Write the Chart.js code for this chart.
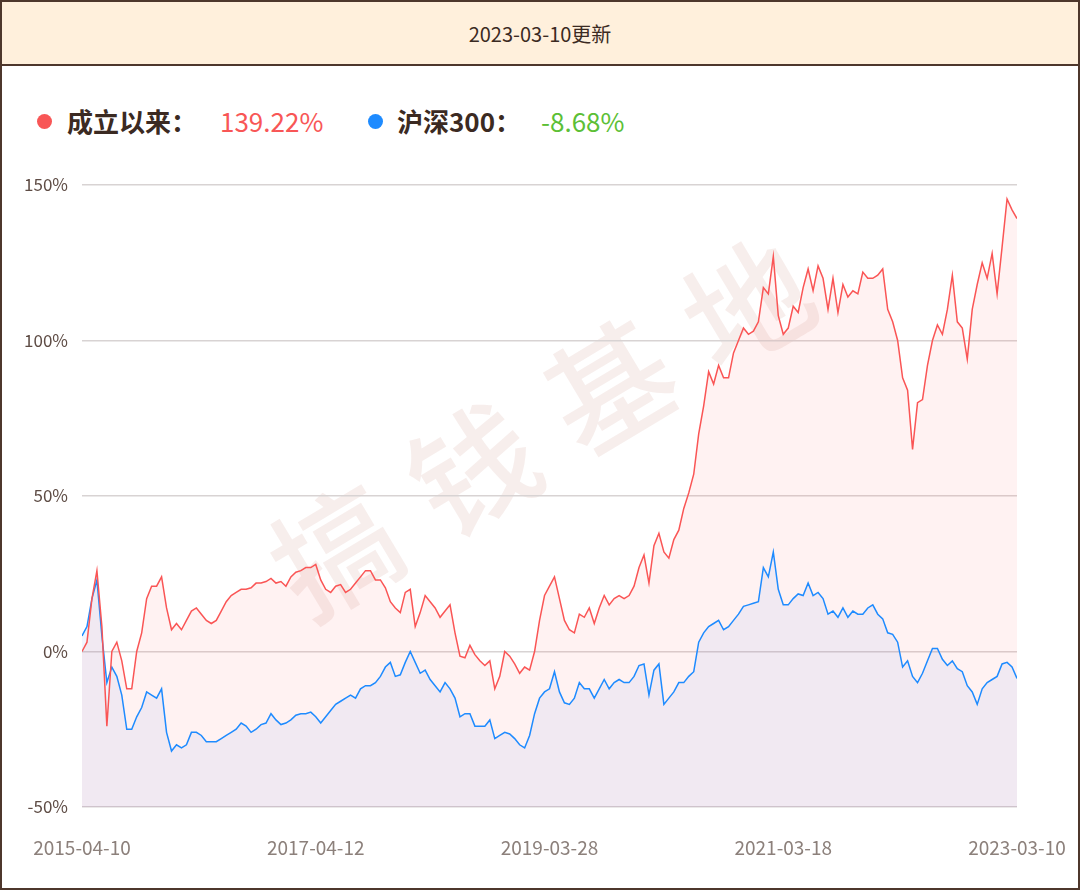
<!DOCTYPE html>
<html>
<head>
<meta charset="utf-8">
<script src="https://cdn.jsdelivr.net/npm/chart.js@4.4.0/dist/chart.umd.min.js"></script>
<style>
  body { margin: 0; width: 1080px; height: 890px; position: relative; background: #fff; font-family: "Noto Sans CJK SC", "Noto Sans", sans-serif; overflow: hidden; }
  #frame { position: absolute; left: 0; top: 0; width: 1080px; height: 890px; box-sizing: border-box; border: 2px solid #4e372c; pointer-events: none; z-index: 5; }
  #head { position: absolute; left: 0; top: 0; width: 1080px; height: 66px; background: #fff0dc; border-bottom: 2px solid #4e372c; box-sizing: border-box; text-align: center; line-height: 68px; font-size: 20px; color: #3b2a22; }
  .lg { position: absolute; top: 102px; font-size: 26px; line-height: 38px; white-space: nowrap; }
  .dot { position: absolute; top: 114px; width: 15px; height: 15px; border-radius: 50%; }
  #wrap { position: absolute; left: 0; top: 160px; width: 1080px; height: 720px; }
</style>
</head>
<body>
<div id="head">2023-03-10更新</div>
<div class="dot" style="left:37px;background:#f85656"></div>
<div class="lg" style="left:67px;font-weight:bold;color:#3b2a22">成立以来：</div>
<div class="lg" style="left:220px;color:#f85656">139.22%</div>
<div class="dot" style="left:368px;background:#1e8bff"></div>
<div class="lg" style="left:397px;font-weight:bold;color:#3b2a22">沪深300：</div>
<div class="lg" style="left:541px;color:#5cbf36">-8.68%</div>
<div id="wrap"><canvas id="chart" width="1080" height="720"></canvas></div>
<div id="frame"></div>
<script>
// 日期刻度（x轴只显示这5个）
const tickDates = ['2015-04-10', '2017-04-12', '2019-03-28', '2021-03-18', '2023-03-10'];
const yTicks = [-50, 0, 50, 100, 150];

// 成立以来累计收益（%）
const fundReturn = [
  0, 3, 17, 26, 8, -24, 0, 3, -3, -12,
  -12, 0, 6, 17, 21, 21, 24, 14, 7, 9,
  7, 10, 13, 14, 12, 10, 9, 10, 13, 16,
  18, 19, 20, 20, 20.5, 22, 22, 22.5, 23.5, 22,
  22.5, 21, 24, 25.5, 26, 27, 27, 28, 23, 20,
  19, 21, 21.5, 19, 20, 22, 24, 26, 26, 23,
  23, 20.5, 16, 14, 12.5, 19, 20, 8, 12.5, 18,
  16, 14, 11, 13, 15, 6, -1.5, -2, 2, -1,
  -3, -4.5, -3, -12, -8, 0, -1.5, -4, -7, -5,
  -6, 0, 10, 18, 21, 24, 17, 10, 7, 6,
  12, 11, 14, 9, 14, 18, 15, 17, 18, 17,
  18, 21, 27, 31, 22, 34, 38, 32, 30, 36,
  39, 46, 51, 57, 70, 79, 90, 86, 92, 88,
  88, 96, 100, 104, 102, 103, 106, 117, 115, 127,
  108, 102, 104, 111, 109, 117, 123, 116, 124, 120,
  110, 120, 109, 118, 114, 116, 115, 122, 120, 120,
  121, 123, 110, 106, 100, 88, 84, 65, 80, 81,
  92, 100, 105, 102, 110, 121, 106, 104, 94, 110,
  118, 125, 120, 128, 115, 130, 145.5, 142, 139.22
];

// 沪深300同期收益（%）
const hs300Return = [
  5, 8, 17, 23, 5, -10, -5, -8, -14, -25,
  -25, -21, -18, -13, -14, -15, -12, -26, -32, -30,
  -31, -30, -26, -26, -27, -29, -29, -29, -28, -27,
  -26, -25, -23, -24, -26, -25, -23.5, -23, -20, -22,
  -23.5, -23, -22, -20.5, -20, -20, -19.5, -21, -23, -21,
  -19, -17, -16, -15, -14, -15, -12, -11, -11, -10,
  -8, -5, -3.5, -8, -7.5, -3.5, 0, -3.5, -7, -6,
  -9, -11, -13, -10, -12, -15, -21, -20, -20, -24,
  -24, -24, -22, -28, -27, -26, -26.5, -28, -30, -31,
  -27, -20, -15, -13, -12, -6.5, -13, -16.5, -17, -15,
  -10, -12, -12, -15, -12, -9, -12, -10, -9, -10,
  -10, -8, -4.5, -4, -14, -6, -4, -17, -15, -13,
  -10, -10, -8, -6.5, 3, 6, 8, 9, 10, 7,
  8, 10, 12, 14.5, 15, 15.5, 16, 27, 24, 32,
  20, 15, 15, 17, 18.5, 18, 22, 18, 19, 17,
  12, 13, 11, 14, 11, 13, 12, 12, 14, 15,
  12, 10.5, 6, 5.5, 3, -5, -3, -8, -10, -7,
  -3, 1, 1, -2.5, -4.5, -3, -5.5, -6.5, -11, -13,
  -17, -12, -10, -9, -8, -4, -3.5, -5, -8.68
];

const step = (fundReturn.length - 1) / (tickDates.length - 1);

const watermark = {
  id: 'watermark',
  beforeDraw(chart) {
    const c = chart.ctx;
    const chars = ['搞', '钱', '基', '地'];
    c.save();
    c.translate(542, 268);
    c.rotate(-31 * Math.PI / 180);
    c.fillStyle = 'rgba(215, 170, 160, 0.2)';
    c.font = '500 124px "Noto Sans CJK SC"';
    c.textAlign = 'center';
    c.textBaseline = 'middle';
    chars.forEach((ch, i) => {
      c.fillText(ch, (i - 1.5) * 160, 0);
    });
    c.restore();
  }
};

new Chart(document.getElementById('chart'), {
  type: 'line',
  data: {
    datasets: [{
      label: '成立以来',
      data: fundReturn.map((v, i) => ({ x: i, y: v })),
      borderColor: '#fa5555',
      backgroundColor: 'rgba(255, 90, 90, 0.08)',
      borderWidth: 1.5,
      pointRadius: 0,
      fill: 'start',
      tension: 0
    }, {
      label: '沪深300',
      data: hs300Return.map((v, i) => ({ x: i, y: v })),
      borderColor: '#1e8bff',
      backgroundColor: 'rgba(40, 110, 255, 0.07)',
      borderWidth: 1.5,
      pointRadius: 0,
      fill: 'start',
      tension: 0
    }]
  },
  options: {
    responsive: false,
    animation: false,
    layout: { padding: { top: 25, right: 63, bottom: 13, left: 0 } },
    scales: {
      x: {
        type: 'linear',
        min: 0,
        max: fundReturn.length - 1,
        grid: { display: false, drawTicks: false },
        border: { display: false },
        afterFit: s => { s.height = 60; s.paddingLeft = 0; s.paddingRight = 0; },
        ticks: {
          stepSize: step,
          autoSkip: false,
          maxRotation: 0,
          padding: 29,
          color: '#8c807b',
          font: { family: '"Noto Sans CJK SC"', size: 19 },
          callback: v => tickDates[Math.round(v / step)]
        },
        afterBuildTicks: s => { s.ticks = tickDates.map((d, i) => ({ value: i * step })); }
      },
      y: {
        min: yTicks[0],
        max: yTicks[yTicks.length - 1],
        afterFit: s => { s.width = 82; s.paddingTop = 0; s.paddingBottom = 0; },
        afterBuildTicks: s => { s.ticks = yTicks.map(v => ({ value: v })); },
        grid: { color: '#d8d3d3', lineWidth: 1.5, drawTicks: false },
        border: { display: false },
        ticks: {
          padding: 14,
          color: '#5e4c45',
          font: { family: '"Noto Sans CJK SC"', size: 17 },
          callback: v => v + '%'
        }
      }
    },
    plugins: {
      legend: { display: false },
      tooltip: { enabled: false },
      filler: { drawTime: 'beforeDatasetsDraw' }
    }
  },
  plugins: [watermark]
});
</script>
</body>
</html>
